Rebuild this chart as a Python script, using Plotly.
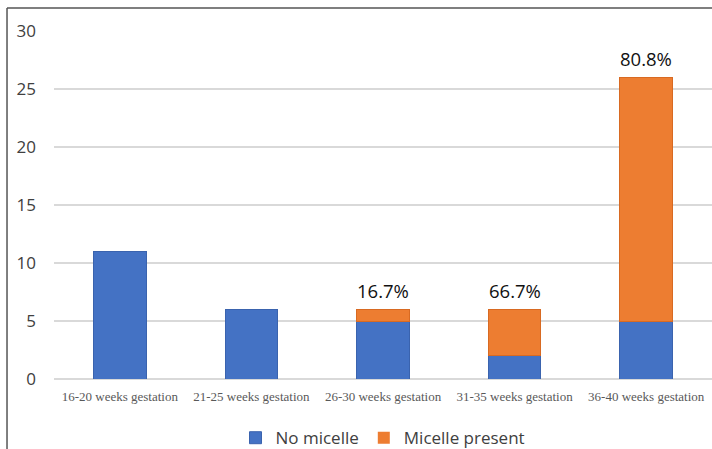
import plotly.graph_objects as go

categories = ["16-20 weeks gestation", "21-25 weeks gestation", "26-30 weeks gestation",
              "31-35 weeks gestation", "36-40 weeks gestation"]
no_micelle = [11, 6, 5, 2, 5]
micelle_present = [0, 0, 1, 4, 21]
y_ticks = [0, 5, 10, 15, 20, 25, 30]

BLUE = "#4472C4"
ORANGE = "#ED7D31"

fig = go.Figure()
fig.add_trace(go.Bar(x=categories, y=no_micelle, name="No micelle",
                     marker=dict(color=BLUE,
                                 line=dict(color="#3A63AE", width=[1 if v > 0 else 0 for v in no_micelle]))))
fig.add_trace(go.Bar(x=categories, y=micelle_present, name="Micelle present",
                     marker=dict(color=ORANGE,
                                 line=dict(color="#D86A22", width=[1 if v > 0 else 0 for v in micelle_present]))))

for c, a, b in zip(categories, no_micelle, micelle_present):
    if b > 0:
        tot = a + b
        fig.add_annotation(x=c, y=tot, text=f"{100 * b / tot:.1f}%", showarrow=False,
                           yanchor="bottom", yshift=4,
                           font=dict(family="Open Sans", size=18.5, color="#111111"))

# outer frame (left and top edges)
fig.add_shape(type="line", xref="paper", yref="paper", x0=-0.0714, x1=1.01, y0=1.066, y1=1.066,
              line=dict(color="#555555", width=1.5))
fig.add_shape(type="line", xref="paper", yref="paper", x0=-0.0714, x1=-0.0714, y0=1.066, y1=-0.25,
              line=dict(color="#555555", width=1.5))

fig.update_layout(
    width=712, height=449,
    margin=dict(l=54, r=0, t=31, b=70, autoexpand=False),
    paper_bgcolor="white", plot_bgcolor="white",
    barmode="stack", bargap=0.6,
    showlegend=True,
    legend=dict(orientation="h", x=0.5, xanchor="center", y=-0.17, yanchor="middle",
                traceorder="normal", font=dict(family="Open Sans", size=17, color="#404040"),
                itemwidth=30),
    xaxis=dict(showgrid=False, showline=False, ticks="", ticklabelstandoff=8,
               tickfont=dict(family="Liberation Serif", size=13, color="#595959")),
    yaxis=dict(range=[0, 30], tickvals=y_ticks, showgrid=True, gridcolor="#D9D9D9", gridwidth=1.5,
               zeroline=True, zerolinecolor="#D9D9D9", zerolinewidth=1.5,
               showline=False, ticks="", ticklabelstandoff=17,
               tickfont=dict(family="Open Sans", size=17, color="#404040")),
)

fig.write_html("out.html")
